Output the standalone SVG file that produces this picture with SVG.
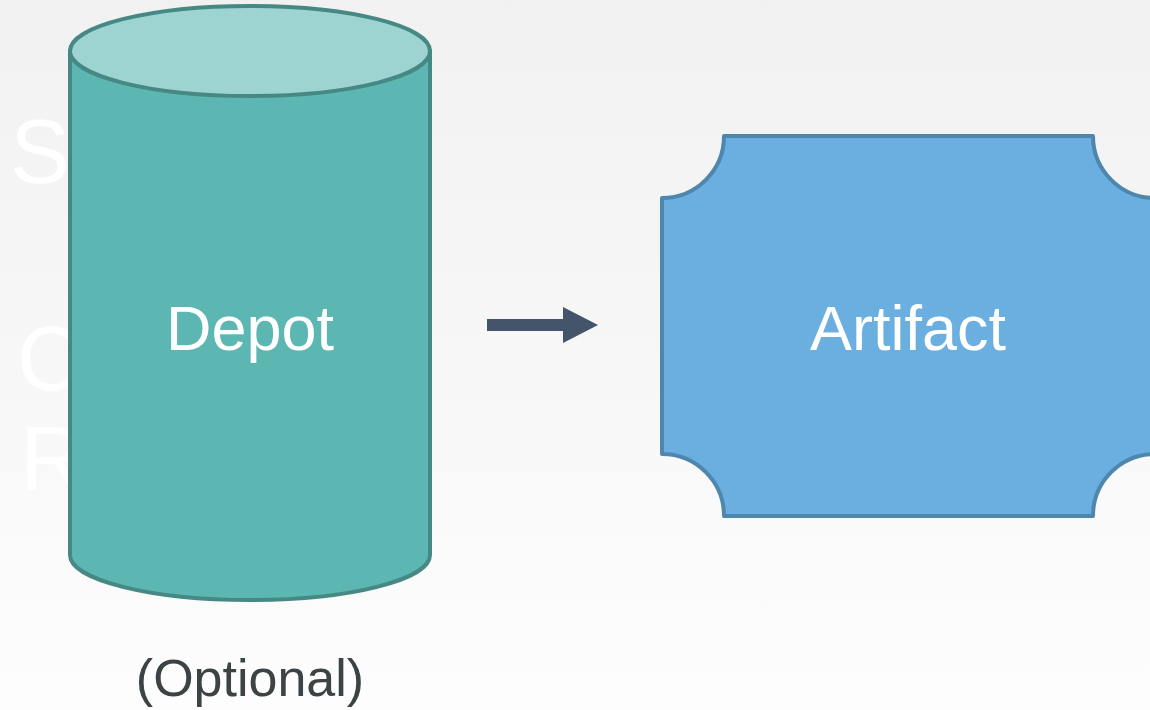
<svg xmlns="http://www.w3.org/2000/svg" width="1150" height="710" viewBox="0 0 1150 710">
  <defs>
    <linearGradient id="bg" x1="0" y1="0" x2="0" y2="1">
      <stop offset="0" stop-color="#f1f1f1"/>
      <stop offset="1" stop-color="#fdfdfd"/>
    </linearGradient>
    <style>
      .ghost { font-family: "Liberation Sans", Arial, sans-serif; font-size: 90px; fill: #ffffff; }
      .label { font-family: "Liberation Sans", Arial, sans-serif; font-size: 63px; fill: #ffffff; text-anchor: middle; }
      .note { font-family: "Liberation Sans", Arial, sans-serif; font-size: 52px; fill: #3d4245; text-anchor: middle; }
      .cyl { stroke: #468984; stroke-width: 4; }
      .art { fill: #6aafe0; stroke: #4f86ad; stroke-width: 4; stroke-linejoin: round; }
    </style>
  </defs>
  <rect x="0" y="0" width="1150" height="710" fill="url(#bg)"/>
  <g id="background-letters">
    <text class="ghost" x="10" y="183">S</text>
    <text class="ghost" x="17" y="390">C</text>
    <text class="ghost" x="20" y="490">R</text>
  </g>
  <g id="depot">
    <path class="cyl" d="M70,51 L70,555 A180,45 0 0 0 430,555 L430,51 Z" fill="#5cb7b2"/>
    <ellipse class="cyl" cx="250" cy="51" rx="180" ry="45" fill="#9dd4d1"/>
    <text class="label" x="250" y="350">Depot</text>
  </g>
  <g id="optional-note">
    <text class="note" x="250" y="696">(Optional)</text>
  </g>
  <g id="connectors">
    <path d="M487,319 L563,319 L563,307 L598,325 L563,343 L563,331 L487,331 Z" fill="#44546a"/>
  </g>
  <g id="artifact">
    <path class="art" d="M724,136 L1093,136 A62,62 0 0 0 1155,198 L1155,454 A62,62 0 0 0 1093,516 L724,516 A62,62 0 0 0 662,454 L662,198 A62,62 0 0 0 724,136 Z"/>
    <text class="label" x="908" y="350">Artifact</text>
  </g>
</svg>
